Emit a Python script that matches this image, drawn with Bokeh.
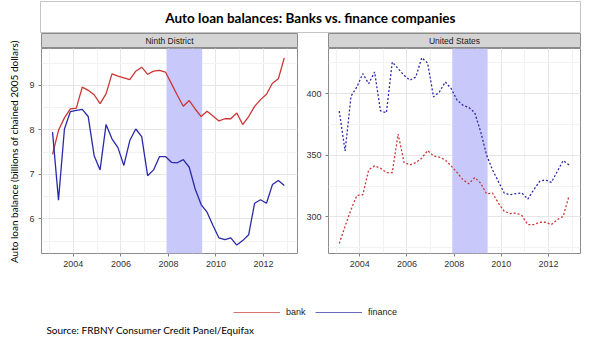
import math
from bokeh.plotting import figure
from bokeh.models import (Range1d, Label, BoxAnnotation, SingleIntervalTicker,
                          Legend, LegendItem)
from bokeh.layouts import row, column
from bokeh.embed import file_html
from bokeh.resources import INLINE

# ---------------- data ----------------
years = list(range(2003, 2013))
quarters = [f"{y}Q{q}" for y in years for q in range(1, 5)]

nd_bank = [7.45, 7.99, 8.27, 8.47, 8.49, 8.96, 8.89, 8.79, 8.59, 8.81,
           9.26, 9.21, 9.17, 9.13, 9.32, 9.41, 9.25, 9.32, 9.34, 9.30,
           9.04, 8.78, 8.53, 8.66, 8.47, 8.30, 8.42, 8.31, 8.20, 8.25,
           8.25, 8.38, 8.12, 8.30, 8.53, 8.68, 8.80, 9.05, 9.15, 9.62]
nd_finance = [7.95, 6.42, 8.02, 8.41, 8.44, 8.46, 8.30, 7.42, 7.10, 8.12,
              7.80, 7.60, 7.20, 7.76, 8.02, 7.85, 6.97, 7.10, 7.40, 7.40,
              7.27, 7.26, 7.33, 7.16, 6.67, 6.32, 6.15, 5.85, 5.57, 5.53,
              5.57, 5.41, 5.51, 5.64, 6.35, 6.43, 6.35, 6.77, 6.86, 6.75]
us_bank = [278.5, 292.5, 306.0, 317.5, 318.0, 338.2, 341.4, 339.5, 336.0, 336.0,
           367.2, 344.1, 342.2, 344.1, 347.6, 353.8, 349.5, 348.4, 346.2, 341.4,
           336.0, 330.1, 326.9, 332.0, 327.4, 318.8, 319.4, 311.3, 304.6, 302.7,
           303.2, 301.1, 293.8, 293.8, 295.7, 295.7, 293.8, 297.8, 300.5, 317.2]
us_finance = [385.8, 353.5, 397.8, 405.4, 416.1, 408.0, 417.5, 386.0, 384.4, 425.5,
              420.2, 414.8, 410.8, 413.4, 429.0, 424.7, 397.3, 401.3, 409.4, 404.0,
              394.6, 390.6, 388.7, 384.4, 369.0, 350.3, 338.2, 328.8, 319.4, 318.0,
              318.9, 319.4, 314.5, 322.0, 328.8, 330.1, 328.0, 336.9, 345.7, 342.2]

recession_start = 2007.92
recession_end = 2009.42

panel_titles = ["Ninth District", "United States"]
series_names = ["bank", "finance"]
title_text = "Auto loan balances: Banks vs. finance companies"
y_title = "Auto  loan balance (billions of chained 2005 dollars)"
source_text = "Source: FRBNY Consumer Credit Panel/Equifax"

# decimal time of mid-quarter
qx = [int(q[:4]) + (int(q[-1]) - 1) / 4 + 0.125 for q in quarters]

RED = "#cc3535"
BLUE = "#2a2aa8"
SHADE = "#c8c8fa"
GRID = "#e6e6e6"
MINOR = "#f2f2f2"
BORDER = "#8c8c8c"
TICKFONT = "Liberation Sans"


def make_panel(width, bl, br, xr, yr, yint, bank, fin, dash):
    p = figure(width=width, height=225, output_backend="svg", toolbar_location=None,
               x_range=Range1d(*xr), y_range=Range1d(*yr),
               min_border_left=bl, min_border_right=br, min_border_top=0,
               min_border_bottom=20)
    p.add_layout(BoxAnnotation(left=recession_start, right=recession_end,
                               fill_color=SHADE, fill_alpha=1.0, line_color=None,
                               level="underlay"))
    p.line(qx, bank, line_color=RED, line_width=1.3, line_dash=dash)
    p.line(qx, fin, line_color=BLUE, line_width=1.3, line_dash=dash)
    p.xaxis.ticker = SingleIntervalTicker(interval=2, num_minor_ticks=2)
    p.yaxis.ticker = SingleIntervalTicker(interval=yint, num_minor_ticks=2)
    p.axis.axis_line_color = None
    p.axis.major_tick_line_color = "#7f7f7f"
    p.axis.major_tick_out = 3
    p.axis.major_tick_in = 0
    p.axis.minor_tick_line_color = None
    p.axis.major_label_standoff = 3
    p.axis.major_label_text_font = TICKFONT
    p.axis.major_label_text_font_size = "9px"
    p.axis.major_label_text_color = "#333333"
    p.grid.grid_line_color = GRID
    p.grid.minor_grid_line_color = MINOR
    p.outline_line_color = BORDER
    p.toolbar.logo = None
    return p


def make_strip(width, bl, br, text):
    s = figure(width=width, height=15, output_backend="svg", toolbar_location=None,
               x_range=Range1d(0, 1), y_range=Range1d(0, 1),
               x_axis_location=None, y_axis_location=None,
               min_border_left=bl, min_border_right=br, min_border_top=0,
               min_border_bottom=0)
    s.grid.visible = False
    s.background_fill_color = "#d4d4d4"
    s.outline_line_color = BORDER
    s.add_layout(Label(x=0.5, y=0.5, text=text, text_align="center",
                       text_baseline="middle", text_font=TICKFONT,
                       text_font_size="8.5px", text_color="#1a1a1a"))
    return s


p1 = make_panel(278, 16, 6, (2002.66, 2013.43), (5.22, 9.83), 1,
                nd_bank, nd_finance, "solid")
p2 = make_panel(297, 20, 20, (2002.67, 2013.36), (270.4, 436.5), 50,
                us_bank, us_finance, "2 2")
s1 = make_strip(278, 16, 6, panel_titles[0])
s2 = make_strip(297, 20, 20, panel_titles[1])

# title box
t = figure(width=575, height=33, output_backend="svg", toolbar_location=None,
           x_range=Range1d(0, 1), y_range=Range1d(0, 1),
           x_axis_location=None, y_axis_location=None,
           min_border_left=15, min_border_right=20, min_border_top=1,
           min_border_bottom=0)
t.grid.visible = False
t.outline_line_color = "#c4c4c4"
t.add_layout(Label(x=0.5, y=0.5, text=title_text, text_align="center",
                   text_baseline="middle", text_font="Lato",
                   text_font_style="bold", text_font_size="13.5px",
                   text_color="#000000"))

# y axis title
yl = figure(width=25, height=345, output_backend="svg", toolbar_location=None,
            x_range=Range1d(0, 25), y_range=Range1d(345, 0),
            x_axis_location=None, y_axis_location=None,
            min_border_left=0, min_border_right=0, min_border_top=0,
            min_border_bottom=0)
yl.grid.visible = False
yl.outline_line_color = None
yl.add_layout(Label(x=13, y=150, text=y_title, angle=math.pi / 2,
                    text_align="center", text_baseline="middle", text_font="Lato",
                    text_font_size="10px", text_color="#000000"))

# bottom: legend and source (frame spans page x 40..583)
b = figure(width=575, height=72, output_backend="svg", toolbar_location=None,
           x_range=Range1d(40, 583), y_range=Range1d(345, 273),
           x_axis_location=None, y_axis_location=None,
           min_border_left=15, min_border_right=17, min_border_top=0,
           min_border_bottom=0)
b.grid.visible = False
b.outline_line_color = None
rb = b.line(x=[-100, -90], y=[-100, -100], line_color=RED, line_width=1.1, line_alpha=0.7)
rf = b.line(x=[-100, -90], y=[-100, -100], line_color=BLUE, line_width=1.1, line_alpha=0.7)
leg = Legend(items=[LegendItem(label=series_names[0], renderers=[rb]),
                    LegendItem(label=series_names[1], renderers=[rf])],
             orientation="horizontal", location=(193, 28), padding=0, margin=0,
             spacing=9, glyph_width=47, glyph_height=10, label_standoff=6,
             label_text_font=TICKFONT, label_text_font_size="9px",
             label_text_color="#1a1a1a", border_line_color=None,
             background_fill_alpha=0)
b.add_layout(leg)
b.add_layout(Label(x=46, y=329, text=source_text, text_align="left",
                   text_baseline="middle", text_font="Lato",
                   text_font_size="10px", text_color="#000000"))

layout = row(yl, column(t, row(column(s1, p1), column(s2, p2)), b))
layout.spacing = 0

open("out.html", "w").write(file_html(layout, INLINE))
